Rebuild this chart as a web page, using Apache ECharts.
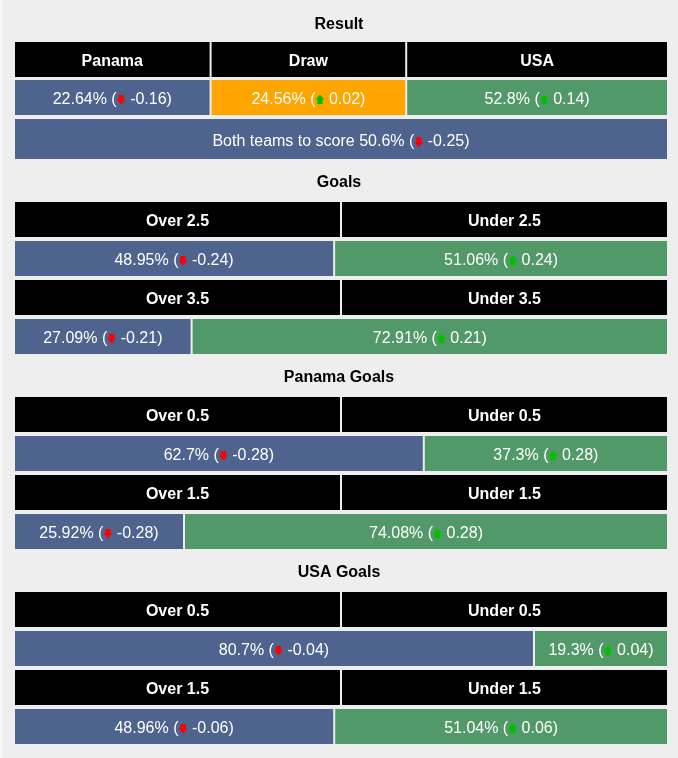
<!DOCTYPE html>
<html><head><meta charset="utf-8">
<script src="https://cdn.jsdelivr.net/npm/echarts@6/dist/echarts.min.js"></script>
<style>html,body{margin:0;padding:0;background:#eeeeee;} #c{width:678px;height:758px;}</style>
</head><body><div id="c"></div>
<script>
// ---------- DATA ----------
const sectionTitles = ['Result', 'Goals', 'Panama Goals', 'USA Goals'];
const resultLabels = ['Panama', 'Draw', 'USA'];
const resultProbs = [22.64, 24.56, 52.8];
const resultChanges = [-0.16, 0.02, 0.14];
const bttsLabel = 'Both teams to score';
const bttsProb = 50.6;
const bttsChange = -0.25;
const goalsLabels = [['Over 2.5', 'Under 2.5'], ['Over 3.5', 'Under 3.5']];
const goalsProbs = [[48.95, 51.06], [27.09, 72.91]];
const goalsChanges = [[-0.24, 0.24], [-0.21, 0.21]];
const panamaGoalsLabels = [['Over 0.5', 'Under 0.5'], ['Over 1.5', 'Under 1.5']];
const panamaGoalsProbs = [[62.7, 37.3], [25.92, 74.08]];
const panamaGoalsChanges = [[-0.28, 0.28], [-0.28, 0.28]];
const usaGoalsLabels = [['Over 0.5', 'Under 0.5'], ['Over 1.5', 'Under 1.5']];
const usaGoalsProbs = [[80.7, 19.3], [48.96, 51.04]];
const usaGoalsChanges = [[-0.04, 0.04], [-0.06, 0.06]];

// ---------- STYLE / LAYOUT ----------
const FONT = '"Liberation Sans", Arial, sans-serif';
const BLUE = '#4e638e', GREEN = '#52996a', ORANGE = '#ffa500', BLACK = '#000000';
const svgArrow = (up, color) => {
  const d = up ? 'M1.2 9.6 Q3 10.3 4.8 9.6 V5 H6 L3 0 L0 5 H1.2Z'
               : 'M1.2 0.4 Q3 -0.3 4.8 0.4 V5 H6 L3 10 L0 5 H1.2Z';
  return 'data:image/svg+xml;charset=utf-8,' + encodeURIComponent(
    "<svg xmlns='http://www.w3.org/2000/svg' width='6' height='10' viewBox='0 0 6 10'><path d='" + d + "' fill='" + color + "'/></svg>");
};
const RICH = {
  dn: { backgroundColor: { image: svgArrow(false, '#ff0000') }, width: 6, height: 10, padding: [0, 1, 0, 2] },
  up: { backgroundColor: { image: svgArrow(true, '#00c000') }, width: 6, height: 10, padding: [0, 1, 0, 2] }
};
function valueText(prefix, p, c) {
  return (prefix ? prefix + ' ' : '') + p + '% ({' + (c < 0 ? 'dn' : 'up') + '| } ' + c + ')';
}
function displayShares(probs, floor) {
  const tot = probs.reduce((a, b) => a + b, 0);
  const p = probs.map(v => v / tot * 100);
  const low = p.map(v => v < floor);
  const fixed = low.filter(Boolean).length * floor;
  const rest = p.filter((v, i) => !low[i]).reduce((a, b) => a + b, 0);
  return p.map((v, i) => low[i] ? floor : v / rest * (100 - fixed));
}

const rows = []; // {top,height,cells:[{share,color,text,bold}]}
function addRow(top, height, shares, colors, texts, bold) {
  rows.push({ top, height, cells: shares.map((s, i) => ({ share: s, color: colors[i], text: texts[i], bold })) });
}
// Result section
const resShares = displayShares(resultProbs, 30);
addRow(42, 35, resShares, [BLACK, BLACK, BLACK], resultLabels, true);
addRow(80, 35, resShares, [BLUE, ORANGE, GREEN], resultProbs.map((p, i) => valueText('', p, resultChanges[i])), false);
addRow(119, 40, [100], [BLUE], [valueText(bttsLabel, bttsProb, bttsChange)], false);
// Two-way sections
const twoWay = [
  [goalsLabels, goalsProbs, goalsChanges, 202],
  [panamaGoalsLabels, panamaGoalsProbs, panamaGoalsChanges, 397],
  [usaGoalsLabels, usaGoalsProbs, usaGoalsChanges, 592]
];
twoWay.forEach(([labels, probs, changes, top]) => {
  labels.forEach((lab, r) => {
    addRow(top + r * 78, 35, [50, 50], [BLACK, BLACK], lab, true);
    addRow(top + r * 78 + 39, 35, displayShares(probs[r], 20.4), [BLUE, GREEN],
      probs[r].map((p, i) => valueText('', p, changes[r][i])), false);
  });
});
const titleY = [23, 181, 376, 571];

const grids = [], xAxes = [], yAxes = [], series = [];
rows.forEach((row, gi) => {
  grids.push({ left: 15, width: 652, top: row.top, height: row.height });
  xAxes.push({ type: 'value', min: 0, max: 100, show: false, gridIndex: gi });
  yAxes.push({ type: 'value', min: 0, max: 1, show: false, gridIndex: gi });
  let acc = 0;
  const data = row.cells.map((c, i) => { const d = [acc, acc + c.share, i]; acc += c.share; return d; });
  series.push({
    type: 'custom', xAxisIndex: gi, yAxisIndex: gi, data,
    renderItem: (params, api) => {
      const i = api.value(2);
      const cell = row.cells[i];
      const cs = params.coordSys;
      const s = api.coord([api.value(0), 0.5])[0];
      const e = api.coord([api.value(1), 0.5])[0];
      const x0 = s + (i > 0 ? 1 : 0);
      const x1 = e - (i < row.cells.length - 1 ? 1 : 0);
      return {
        type: 'rect',
        shape: { x: x0, y: cs.y, width: x1 - x0, height: cs.height },
        style: { fill: cell.color },
        textContent: {
          style: {
            text: cell.text, fill: '#ffffff',
            font: (cell.bold ? 'bold ' : '') + '16px ' + FONT,
            rich: RICH
          }
        },
        textConfig: { position: 'inside', offset: [0, row.height > 36 ? 3 : 2] }
      };
    }
  });
});

const chart = echarts.init(document.getElementById('c'), null, { renderer: 'canvas' });
chart.setOption({
  backgroundColor: '#eeeeee',
  animation: false,
  title: sectionTitles.map((t, i) => ({
    text: t, left: 'center', top: titleY[i] - 6, padding: 0,
    textStyle: { fontFamily: FONT, fontWeight: 'bold', fontSize: 16, color: '#000' }
  })),
  graphic: [{ type: 'rect', shape: { x: 0, y: 0, width: 3, height: 758 }, style: { fill: '#f5f5f5' } }],
  grid: grids, xAxis: xAxes, yAxis: yAxes, series
});
</script></body></html>
